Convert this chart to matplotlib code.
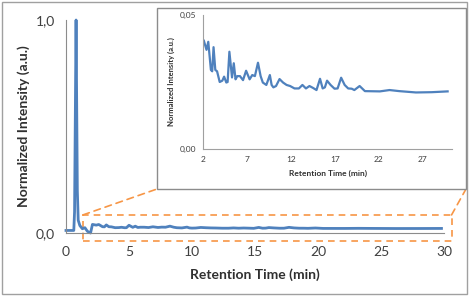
import numpy as np
import matplotlib
matplotlib.use("Agg")
import matplotlib.pyplot as plt
from matplotlib.patches import Rectangle, ConnectionPatch

plt.rcParams['font.family'] = ['Lato', 'DejaVu Sans']

# chromatogram (retention time in min, normalized intensity)
time = [0, 0.62, 0.68, 0.8, 0.9, 0.97, 1.1, 1.3, 1.5, 1.7, 1.95,
        2.1, 2.4, 2.6, 2.9, 3.05, 3.2, 3.4, 3.6, 3.9, 4.2, 4.4, 4.65, 4.8,
        5.0, 5.3, 5.5, 5.7, 5.9, 6.2, 6.55, 6.9, 7.3, 7.6, 7.9, 8.25, 8.55,
        8.8, 9.2, 9.6, 9.8, 10.0, 10.3, 10.7, 11.1, 11.5, 11.9, 12.4, 12.9,
        13.3, 13.7, 14.1, 14.5, 14.9, 15.3, 15.6, 15.85, 16.1, 16.5, 16.95,
        17.3, 17.7, 18.1, 18.5, 18.9, 19.2, 19.8, 20.4, 22.1, 23.2, 24.3,
        26.2, 28.0, 29.8]
intensity = [0.012, 0.012, 0.1, 1.0, 0.2, 0.06, 0.035, 0.02, 0.025, 0.008, 0.0,
             0.0404, 0.037, 0.040, 0.0295, 0.029, 0.038, 0.0295, 0.029, 0.025,
             0.0255, 0.027, 0.0248, 0.025, 0.0363, 0.0267, 0.032, 0.026, 0.0272,
             0.0272, 0.0257, 0.0292, 0.026, 0.0276, 0.0272, 0.0322, 0.0272,
             0.0248, 0.0239, 0.0276, 0.0239, 0.023, 0.0235, 0.0261, 0.0248,
             0.0239, 0.0235, 0.0226, 0.0226, 0.0239, 0.0226, 0.0235, 0.0228,
             0.022, 0.0262, 0.0226, 0.023, 0.0255, 0.0239, 0.0225, 0.0226,
             0.0266, 0.0239, 0.0226, 0.0225, 0.022, 0.0235, 0.0216, 0.0215,
             0.022, 0.0216, 0.0211, 0.0212, 0.0215]

main_xticks = [0, 5, 10, 15, 20, 25, 30]
main_yticks = [0.0, 1.0]
main_ylabels = ["0,0", "1,0"]
inset_xticks = [2, 7, 12, 17, 22, 27]
inset_yticks = [0.0, 0.05]
inset_ylabels = ["0,00", "0,05"]

# zoomed window marked on the main plot
zoom_t = (1.35, 30.6)
zoom_v = (-0.036, 0.085)

blue = "#4F81BD"
orange = "#F79646"
gray = "#8C8C8C"
txt = "#404040"

t = np.array(time)
v = np.array(intensity)

fig = plt.figure(figsize=(4.69, 2.96), dpi=100)
fig.patches.append(Rectangle((0.004, 0.006), 0.992, 0.988, transform=fig.transFigure,
                             fill=False, edgecolor="#A0A0A0", lw=1))

ax = fig.add_axes([0.1407, 0.2128, 0.806, 0.7196])
ax.plot(t, v, color=blue, lw=2, clip_on=False, solid_joinstyle="round")
ax.set_xlim(0, 30)
ax.set_ylim(0, 1.0)
ax.set_xticks(main_xticks)
ax.set_yticks(main_yticks)
ax.set_yticklabels(main_ylabels)
ax.tick_params(axis="x", length=0, labelsize=10, colors=txt, pad=9)
ax.tick_params(axis="y", length=0, labelsize=10, colors=txt, pad=8)
for s in ["top", "right"]:
    ax.spines[s].set_visible(False)
for s in ["left", "bottom"]:
    ax.spines[s].set_color(gray)
ax.set_xlabel("Retention Time (min)", fontsize=10, fontweight="bold", color="#303030", labelpad=8)
ax.set_ylabel("Normalized Intensity (a.u.)", fontsize=10, fontweight="bold", color="#303030", labelpad=4)

# dashed box around the baseline
ax.add_patch(Rectangle((zoom_t[0], zoom_v[0]), zoom_t[1] - zoom_t[0], zoom_v[1] - zoom_v[0],
                       fill=False, edgecolor=orange, ls=(0, (4, 3)), lw=1.2, clip_on=False))

# inset frame
box = (157 / 469, 1 - 189 / 296, (466 - 157) / 469, (189 - 8) / 296)
fig.patches.append(Rectangle(box[:2], box[2], box[3], transform=fig.transFigure,
                             facecolor="white", edgecolor=gray, lw=1, zorder=3))

for tx, bx in [(zoom_t[0], box[0]), (zoom_t[1], box[0] + box[2])]:
    con = ConnectionPatch(xyA=(tx, zoom_v[1]), coordsA=ax.transData,
                          xyB=(bx, box[1]), coordsB=fig.transFigure,
                          color=orange, ls=(0, (4, 3)), lw=1.2)
    fig.add_artist(con)

ins = fig.add_axes([0.4328, 0.4966, 0.531, 0.4527], zorder=4)
ins.patch.set_alpha(0)
m = t >= 2.05
ins.plot(t[m], v[m], color=blue, lw=1.6, solid_joinstyle="round")
ins.set_xlim(2, 30.3)
ins.set_ylim(0, 0.05)
ins.set_xticks(inset_xticks)
ins.set_yticks(inset_yticks)
ins.set_yticklabels(inset_ylabels)
ins.tick_params(length=0, labelsize=6, colors=txt, pad=5)
for s in ["top", "right"]:
    ins.spines[s].set_visible(False)
for s in ["left", "bottom"]:
    ins.spines[s].set_color("#A0A0A0")
ins.set_xlabel("Retention Time (min)", fontsize=6, fontweight="bold", color="#303030", labelpad=5)
ins.set_ylabel("Normalized Intensity (a.u.)", fontsize=5.5, fontweight="bold", color="#303030", labelpad=3)

fig.savefig("out.png", dpi=100)
